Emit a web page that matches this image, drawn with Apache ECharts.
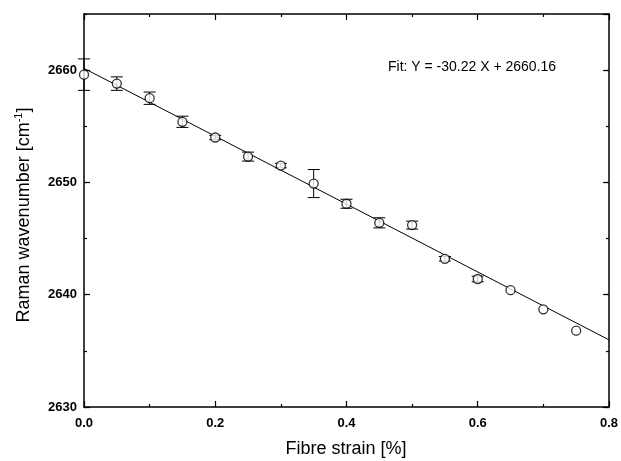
<!DOCTYPE html>
<html><head><meta charset="utf-8">
<script src="https://cdn.jsdelivr.net/npm/echarts@6/dist/echarts.min.js"></script>
<style>html,body{margin:0;padding:0;background:#fff}#c{width:621px;height:461px}</style>
</head><body><div id="c"></div>
<script>
// Data
const strain = [0.0, 0.05, 0.10, 0.15, 0.20, 0.25, 0.30, 0.35, 0.40, 0.45, 0.50, 0.55, 0.60, 0.65, 0.70, 0.75];
const wavenumber = [2659.6, 2658.8, 2657.5, 2655.4, 2654.0, 2652.3, 2651.5, 2649.9, 2648.1, 2646.4, 2646.2, 2643.2, 2641.4, 2640.4, 2638.7, 2636.8];
const errorBar = [1.4, 0.6, 0.55, 0.5, 0.2, 0.4, 0.2, 1.25, 0.4, 0.45, 0.35, 0.2, 0.25, 0, 0, 0];
const fitX = [0, 0.8];
const fitY = [2660.16, 2635.98];
const fitLabel = 'Fit: Y = -30.22 X + 2660.16';
const xName = 'Fibre strain [%]';
const yName = 'Raman wavenumber [cm{sup|-1}]';

const black = '#000';
const pts = strain.map((x, i) => [x, wavenumber[i]]);
const errData = strain.map((x, i) => [x, wavenumber[i], errorBar[i]]);
const fitData = fitX.map((x, i) => [x, fitY[i]]);

const lineStyle = { color: black, width: 1.5 };
function xAxis(pos, labels) {
  return {
    type: 'value', position: pos, min: 0, max: 0.8, interval: 0.2,
    axisLine: { show: true, onZero: false, lineStyle },
    axisTick: { show: true, inside: true, length: 6, lineStyle: { color: black, width: 1.2 } },
    minorTick: { show: true, splitNumber: 2, length: 3, lineStyle: { color: black, width: 1.2 } },
    splitLine: { show: false }, minorSplitLine: { show: false },
    axisLabel: { show: labels, color: black, fontFamily: 'Liberation Sans, Arial', fontWeight: 'bold', fontSize: 13, margin: 10,
      formatter: v => v.toFixed(1) }
  };
}
function yAxis(pos, labels, interval, len, line) {
  return {
    type: 'value', position: pos, min: 2630, max: 2665, interval: interval,
    axisLine: { show: line, onZero: false, lineStyle },
    axisTick: { show: true, inside: true, length: len, lineStyle: { color: black, width: 1.2 } },
    splitLine: { show: false },
    axisLabel: { show: labels, color: black, fontFamily: 'Liberation Sans, Arial', fontWeight: 'bold', fontSize: 13, margin: 7,
      formatter: v => (v % 10 === 0 ? String(v) : ''), showMaxLabel: false }
  };
}

const chart = echarts.init(document.getElementById('c'), null, { renderer: 'canvas' });
chart.setOption({
  animation: false,
  backgroundColor: '#fff',
  grid: { left: 84, right: 12, top: 14, bottom: 54 },
  xAxis: [xAxis('bottom', true), xAxis('top', false)],
  yAxis: [yAxis('left', true, 10, 6, true), yAxis('left', false, 5, 3, false),
          yAxis('right', false, 10, 6, true), yAxis('right', false, 5, 3, false)],
  series: [
    { type: 'line', data: fitData, xAxisIndex: 0, yAxisIndex: 0, symbol: 'none',
      lineStyle: { color: black, width: 1 }, z: 2 },
    { type: 'custom', data: errData, xAxisIndex: 0, yAxisIndex: 0, z: 3, clip: false,
      renderItem: function (params, api) {
        const e = api.value(2);
        if (!e) return null;
        const x = api.value(0), y = api.value(1);
        const top = api.coord([x, y + e]);
        const bot = api.coord([x, y - e]);
        const hw = 6;
        const st = { stroke: black, lineWidth: 1 };
        return { type: 'group', children: [
          { type: 'line', shape: { x1: top[0], y1: top[1], x2: bot[0], y2: bot[1] }, style: st },
          { type: 'line', shape: { x1: top[0] - hw, y1: top[1], x2: top[0] + hw, y2: top[1] }, style: st },
          { type: 'line', shape: { x1: bot[0] - hw, y1: bot[1], x2: bot[0] + hw, y2: bot[1] }, style: st }
        ]};
      } },
    { type: 'scatter', data: pts, xAxisIndex: 0, yAxisIndex: 0, symbol: 'circle', symbolSize: 9, clip: false,
      itemStyle: { color: '#fff', borderColor: black, borderWidth: 1.3 }, z: 4 }
  ],
  graphic: [
    { type: 'text', x: 388, y: 67, style: { text: fitLabel, fill: black, font: '14px "Liberation Sans", Arial', verticalAlign: 'middle' } },
    { type: 'text', x: 346, y: 449, style: { text: xName, fill: black, font: '18px "Liberation Sans", Arial', align: 'center', verticalAlign: 'middle' } },
    { type: 'text', x: 24, y: 215, rotation: Math.PI / 2,
      style: { text: yName, fill: black, font: '18px "Liberation Sans", Arial', align: 'center', verticalAlign: 'middle',
        rich: { sup: { fontSize: 11, fontFamily: 'Liberation Sans, Arial', fill: black, padding: [0, 0, 10, 0] } } } }
  ]
});
</script></body></html>
